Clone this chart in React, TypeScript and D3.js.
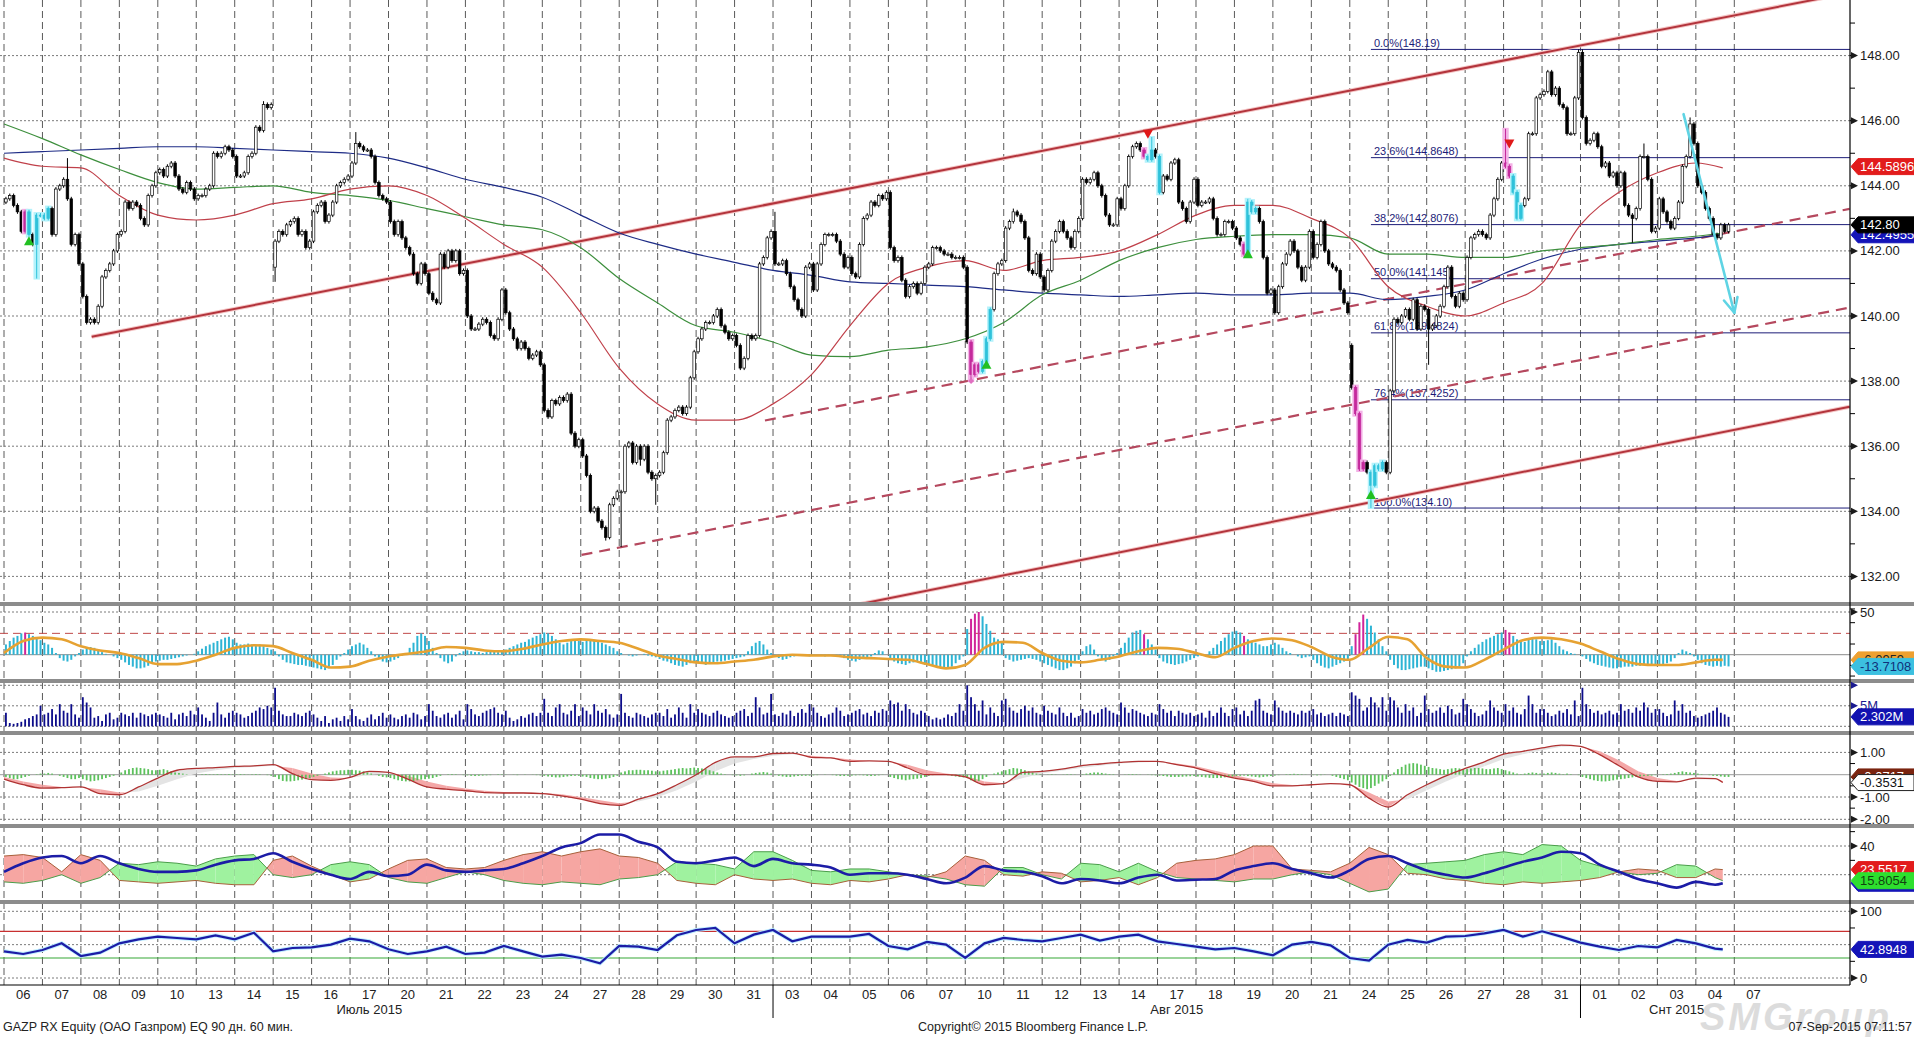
import React from 'react';
import * as d3 from 'd3';

// ---------- data ----------
const dayLabels = ['06','07','08','09','10','13','14','15','16','17','20','21','22','23','24','27','28','29','30','31',
  '03','04','05','06','07','10','11','12','13','14','17','18','19','20','21','24','25','26','27','28','31',
  '01','02','03','04','07'];
const monthLabels = ['Июль 2015', 'Авг 2015', 'Снт 2015'];
const monthCenters = [9.5, 30.5, 43.5];
const monthBreaks = [20, 41];

// hourly closes, one row per trading day
const firstOpen = 143.5;
const closes: number[][] = [
  [143.6,143.7,143.4,143.2,142.6,143.2,142.5,142.2,143.1,143.1],
  [143.0,143.3,142.5,143.9,144.0,144.2,143.6,142.2,142.5,141.6],
  [140.6,139.8,139.9,139.8,140.3,141.2,141.4,141.6,142.0,142.5],
  [142.6,143.5,143.3,143.5,143.4,143.0,142.8,143.7,144.0,144.4],
  [144.5,144.3,144.6,144.7,144.3,143.9,143.8,144.1,143.9,143.6],
  [143.7,143.7,143.9,144.0,145.0,144.9,145.0,145.2,145.1,144.9],
  [144.3,144.3,144.4,144.9,145.0,145.8,145.7,146.5,146.4,146.5],
  [142.3,142.6,142.5,142.8,142.9,143.0,142.5,142.6,142.1,142.3],
  [143.2,143.4,143.5,142.9,143.1,143.5,144.0,144.1,144.2,144.3],
  [144.7,145.3,145.2,145.1,145.1,144.9,144.1,143.7,143.6,143.5],
  [142.9,142.5,142.9,142.4,142.1,141.9,141.3,141.0,141.6,141.3],
  [140.7,140.5,140.4,141.9,141.5,142.0,141.7,142.0,141.3,141.4],
  [140.0,139.6,139.6,139.75,139.9,139.8,139.4,139.3,139.9,140.8],
  [140.1,139.6,139.3,139.0,139.2,139.0,138.7,138.8,138.9,138.5],
  [137.1,136.9,137.4,137.3,137.5,137.4,137.6,136.4,136.0,136.2],
  [135.7,135.1,134.0,134.1,133.7,133.5,133.2,134.2,134.4,134.6],
  [134.6,136.0,136.1,135.5,136.0,135.6,136.0,135.2,135.0,135.1],
  [135.2,135.8,136.8,136.9,137.1,137.2,137.0,137.2,138.1,138.9],
  [139.3,139.6,139.8,139.8,140.0,140.2,139.7,139.5,139.3,139.4],
  [139.1,138.4,138.7,139.4,139.3,139.4,141.6,141.8,142.4,142.6],
  [141.6,141.6,141.7,141.3,140.9,140.5,140.2,140.0,141.5,141.6],
  [140.8,141.6,142.2,142.5,142.5,142.5,142.3,141.9,141.5,141.8],
  [141.3,141.2,142.2,143.0,143.1,143.5,143.4,143.7,143.6,143.8],
  [142.1,141.7,141.8,141.1,140.6,140.9,141.0,140.7,141.0,141.5],
  [141.6,142.1,142.1,142.0,141.9,141.9,141.8,141.8,141.8,141.5],
  [139.2,138.2,138.5,138.3,138.6,139.3,140.2,141.3,141.6,141.7],
  [142.7,142.9,143.2,143.1,142.9,142.4,141.4,141.3,141.9,141.2],
  [140.8,141.4,142.3,142.6,142.9,142.6,142.4,142.1,142.6,143.0],
  [144.2,144.1,144.2,144.4,144.0,143.7,143.1,142.8,142.8,143.6],
  [143.3,144.0,144.9,145.2,145.3,145.1,144.9,144.8,145.1,144.9],
  [143.8,144.3,144.2,144.7,144.8,143.5,143.3,142.9,143.5,144.2],
  [143.4,143.5,143.5,143.6,143.0,142.5,142.5,142.9,142.9,142.7],
  [142.4,142.2,141.9,143.5,143.2,143.3,142.9,141.8,140.7,140.8],
  [140.1,140.9,141.6,141.9,142.3,142.0,141.5,141.1,141.5,142.6],
  [141.8,142.2,142.9,142.0,141.6,141.5,141.4,140.8,140.4,140.1],
  [137.8,137.0,135.3,135.5,135.2,134.8,135.4,135.3,135.5,135.2],
  [137.7,139.9,139.8,140.0,140.2,139.9,140.5,139.6,140.3,140.2],
  [139.6,139.7,140.0,140.3,140.9,141.5,140.6,140.3,140.7,140.5],
  [141.8,142.4,142.5,142.6,142.5,142.4,143.1,143.6,144.2,144.7],
  [144.6,144.3,143.8,143.0,143.4,143.6,145.6,145.6,146.7,146.8],
  [146.9,147.5,146.8,147.0,146.5,146.4,145.6,145.6,146.7,148.1],
  [146.1,145.3,145.4,145.6,145.2,144.6,144.7,144.3,144.4,144.0],
  [144.4,143.4,143.1,143.0,143.3,144.9,144.9,144.2,142.6,142.7],
  [143.6,143.2,142.9,142.7,143.0,143.5,144.6,144.9,145.9,145.3],
  [144.0,143.8,143.3,143.0,142.5,142.4,142.8,142.6,142.8],
];
const gapOpens: [number, number][] = [[70, 141.5], [350, 139.1], [410, 148.1]];
const highMarks: [number, number][] = [[16, 144.85], [67, 146.6], [91, 145.65], [200, 143.2], [262, 143.3],
  [298, 145.5], [323, 143.6], [390, 145.75], [409, 148.19], [410, 148.19], [426, 145.3], [438, 146.1]];
const lowMarks: [number, number][] = [[8, 141.15], [70, 141.05], [156, 133.1], [160, 132.9], [169, 134.2],
  [251, 138.0], [355, 134.1], [370, 138.5], [423, 142.25], [165, 135.4]];
const magentaBars = [5, 251, 252, 253, 296, 322, 351, 352, 353, 390, 391];
const cyanBars = [6, 8, 9, 10, 11, 254, 255, 256, 297, 298, 300, 323, 324, 325, 355, 356, 357, 358, 392, 393, 394];
const upMarks: [number, number][] = [[6, 142.3], [255, 138.5], [323, 141.9], [355, 134.5]];
const downMarks: [number, number][] = [[297, 145.6], [391, 145.3]];

// moving averages, one value per day start + last bar
const maRed = [144.85,144.6,144.55,143.7,143.1,142.95,143.1,143.45,143.6,143.9,144.0,143.7,143.0,142.2,141.5,140.1,138.4,137.3,136.8,136.8,
  137.3,138.2,139.7,141.0,141.5,141.7,141.4,141.7,141.8,142.0,142.5,143.1,143.4,143.4,143.0,142.4,140.9,140.3,140.0,140.4,
  141.0,142.8,143.8,144.4,144.7,144.55];
const maGreen = [145.9,145.45,144.95,144.5,144.1,143.9,143.95,144.0,143.8,143.7,143.55,143.3,143.05,142.8,142.65,142.1,141.15,140.4,139.7,139.5,
  139.2,138.8,138.75,138.95,139.05,139.3,139.8,140.65,141.1,141.7,142.1,142.35,142.45,142.5,142.5,142.4,141.9,141.9,141.8,141.8,
  142.0,142.1,142.2,142.35,142.45,142.55];
const maBlue = [145.0,145.05,145.1,145.15,145.2,145.2,145.15,145.1,145.05,145.0,144.85,144.55,144.2,143.95,143.65,143.1,142.55,142.2,141.9,141.65,
  141.4,141.25,141.05,141.0,140.95,140.9,140.8,140.7,140.65,140.6,140.65,140.7,140.65,140.65,140.7,140.7,140.5,140.6,140.8,141.3,
  141.75,142.05,142.2,142.3,142.4,142.5];
const lastPos = 44.7;

const fibLevels = [148.19, 144.8648, 142.8076, 141.145, 139.4824, 137.4252, 134.10];
const fibNames = ['0.0%(148.19)', '23.6%(144.8648)', '38.2%(142.8076)', '50.0%(141.145)', '61.8%(139.4824)', '76.4%(137.4252)', '100.0%(134.10)'];
const fibStart = 35.55;

const channelUpper: [number, number][] = [[2.28, 139.36], [48, 149.93]];
const channelLower: [number, number][] = [[22.26, 131.15], [48, 137.21]];
const channelMidA: [number, number][] = [[15.02, 132.66], [48, 140.26]];
const channelMidB: [number, number][] = [[19.79, 136.79], [48, 143.29]];
const arrowLine: [number, number][] = [[43.68, 146.2], [45.0, 140.1]];

// oscillator histogram (per bar) and its signal (half-day)
const oscHist: number[][] = [
  [12,16,20,22,25,26,24,22,20,17],[14,12,8,2,-4,-7,-8,-6,-2,2],[6,8,9,8,6,3,1,0,-2,-4],[-6,-9,-12,-14,-16,-16,-15,-13,-10,-8],
  [-7,-6,-6,-5,-4,-3,-2,-1,0,1],[4,7,10,12,14,16,18,20,21,18],[14,12,12,13,12,11,12,10,8,6],[4,-2,-6,-9,-10,-11,-12,-12,-13,-14],
  [-15,-16,-17,-18,-16,-12,-6,-2,2,6],[10,12,14,12,8,4,-2,-5,-8,-9],[-8,-6,-4,-1,2,8,14,22,25,22],[16,8,2,-4,-8,-10,-8,-2,2,4],
  [5,4,3,3,2,3,4,4,3,4],[6,8,10,12,14,15,18,20,22,24],[26,25,22,18,14,12,14,16,17,16],[15,16,17,17,16,14,12,10,8,4],
  [2,0,-1,-2,-1,0,1,-1,-2,-3],[-5,-7,-8,-10,-12,-13,-14,-12,-10,-8],[-9,-10,-12,-11,-10,-8,-8,-7,-6,-5],[-4,-3,-2,4,10,14,16,12,6,2],
  [-2,-4,-6,-5,-3,-2,-1,0,-1,-2],[-1,0,-1,-2,-1,0,-1,-2,-4,-6],[-7,-8,-6,-5,-4,-2,2,5,4,0],[-6,-8,-10,-11,-12,-10,-9,-8,-10,-12],
  [-12,-13,-14,-15,-16,-16,-14,-10,-6,-2],[30,42,48,50,45,36,28,20,18,16],[-4,-6,-8,-7,-6,-5,-4,-5,-6,-8],[-10,-12,-14,-16,-18,-18,-16,-14,-10,-6],
  [4,10,12,6,-2,-6,-8,-6,-2,2],[8,14,20,26,28,29,24,18,12,6],[-4,-8,-10,-11,-12,-11,-10,-8,-6,-4],[-2,-1,0,4,8,12,16,20,24,27],
  [28,26,22,18,16,14,12,10,10,12],[14,12,8,4,2,0,-2,-4,-3,-2],[-6,-10,-13,-15,-16,-14,-12,-10,-8,-6],[10,24,38,47,42,34,26,18,10,4],
  [-6,-12,-16,-18,-18,-17,-16,-15,-14,-14],[-16,-18,-20,-20,-19,-18,-17,-16,-14,-10],[-2,4,8,12,15,18,20,22,24,26],[29,26,22,18,16,15,18,20,18,16],
  [16,17,18,14,10,6,4,2,1,0],[-2,-5,-8,-10,-12,-13,-14,-15,-16,-16],[-15,-14,-14,-14,-13,-13,-12,-12,-12,-11],[-12,-12,-10,-8,-4,2,6,4,2,-2],
  [-6,-10,-12,-13,-14,-13,-14,-13,-13.7108],
];
const oscSignal = [2,16,20,18,10,5,2,-4,-11,-11,-7,0,8,11,10,2,-6,-15,-14,-7,-2,1,4,9,8,5,4,7,12,16,18,16,14,
  7,-1,-5,-9,-10,-8,-6,-2,0,-1,-1,-3,-4,-5,-6,-11,-16,-12,8,15,14,2,-7,-9,-6,-2,4,8,7,2,-3,8,
  16,19,17,9,-2,-6,8,21,18,-4,-14,-15,-6,6,17,20,18,13,4,-5,-11,-12,-12,-9,-6,-6.0959];

// volume, millions per bar
const volume: number[][] = [
  [3.3,0.8,0.6,0.8,1.1,1.7,2.0,2.5,2.9,5.0],[2.9,3.3,4.2,2.9,5.4,3.8,3.3,5.4,2.9,2.1],[7.1,5.8,4.6,2.1,2.5,1.3,2.9,3.3,1.7,2.1],
  [3.3,2.9,2.5,3.3,2.1,3.3,2.9,2.5,2.9,3.3],[2.9,2.5,2.1,3.3,1.7,2.9,3.3,2.5,3.8,2.9],[4.6,2.9,2.1,1.3,3.3,5.8,2.9,2.1,3.3,3.8],
  [3.3,2.9,2.1,2.5,3.3,3.8,4.6,4.2,5.0,4.6],[9.4,3.8,2.9,2.5,2.5,3.3,2.9,2.5,3.3,3.8],[2.9,2.1,1.3,2.5,0.8,1.7,2.1,1.3,2.5,1.7],
  [4.2,2.5,1.7,1.3,2.1,2.9,1.7,2.5,3.3,2.1],[2.9,2.1,1.7,2.5,2.9,2.1,3.3,2.9,1.7,2.5],[5.4,3.8,2.5,2.1,2.9,3.3,2.1,2.9,3.8,1.7],
  [5.4,4.2,2.9,2.5,3.3,3.8,4.2,4.6,3.3,2.9],[3.8,2.1,1.3,1.7,2.5,2.1,2.9,3.3,2.5,3.3],[6.7,3.3,2.5,4.6,5.4,3.3,2.9,3.8,5.4,2.5],
  [4.6,3.8,2.9,5.4,3.8,3.3,4.2,2.9,2.1,2.9],[7.9,3.3,2.5,2.1,3.3,2.9,2.5,2.1,2.9,3.3],[3.3,2.5,4.2,2.1,2.9,4.6,3.3,2.1,5.4,3.3],
  [4.2,3.3,2.9,2.5,3.3,3.8,2.9,2.5,2.1,2.5],[3.3,3.8,4.2,2.5,3.3,7.1,4.6,2.9,3.3,7.9],[2.9,2.5,3.3,2.9,3.8,2.5,3.3,4.2,3.3,5.4],
  [4.6,3.3,2.5,2.1,2.9,3.3,4.6,3.8,2.5,2.9],[3.3,3.8,4.2,2.9,3.3,2.5,3.8,3.3,4.2,3.8],[6.3,5.4,5.8,3.8,5.4,4.2,3.3,2.9,3.8,3.3],
  [2.5,1.7,2.1,1.7,2.1,2.9,2.5,3.3,5.4,3.8],[10.0,7.1,5.4,3.8,6.3,2.9,4.6,3.3,2.5,6.3],[6.7,4.6,3.8,3.3,4.2,5.0,3.8,4.6,3.3,2.9],
  [5.0,3.8,3.3,2.9,4.6,3.3,2.5,3.3,2.1,2.5],[4.2,3.3,3.8,2.9,3.3,4.2,4.6,3.8,3.3,2.9],[5.8,4.6,3.3,4.2,3.8,3.3,2.9,2.5,3.3,2.9],
  [5.4,4.2,3.3,3.8,2.5,3.8,3.3,2.9,3.3,2.5],[2.9,3.3,2.1,3.8,2.5,3.3,4.6,3.3,2.5,4.2],[4.6,2.9,3.8,2.5,3.8,6.3,6.7,3.8,3.3,2.9],
  [6.3,4.6,3.8,3.3,3.8,3.3,2.9,3.8,3.3,3.8],[4.2,2.9,3.3,2.5,2.9,3.3,2.5,3.3,2.9,2.5],[8.3,7.5,6.7,3.8,4.6,7.1,5.8,4.6,7.1,3.8],
  [7.1,6.3,4.6,3.3,5.4,3.8,4.6,2.5,3.3,7.5],[4.2,3.3,3.8,4.6,3.3,5.0,4.2,2.9,3.3,6.7],[5.4,4.2,3.3,2.5,2.9,3.8,6.3,4.6,3.8,3.3],
  [5.4,3.8,4.6,3.3,2.9,4.2,7.5,5.4,3.3,4.2],[4.2,3.3,2.5,2.9,3.8,3.3,4.2,2.9,6.3,2.5],[9.4,5.4,4.2,3.3,3.8,2.9,3.3,3.8,2.9,3.3],
  [5.4,3.8,4.2,3.3,4.6,3.8,5.8,4.6,3.3,4.2],[4.2,3.3,2.5,2.9,6.3,3.8,5.4,3.3,3.8,2.5],[2.1,2.5,2.9,3.3,3.8,4.6,3.3,2.9,2.302],
];

// MACD histogram per bar, MACD and signal half-day
const macdHist: number[][] = [
  [-0.1,-0.15,-0.2,-0.2,-0.15,-0.1,-0.05,0,0.02,0.05],[0.05,0.08,0.05,0,-0.05,-0.1,-0.15,-0.2,-0.2,-0.15],[-0.2,-0.25,-0.3,-0.28,-0.25,-0.2,-0.15,-0.1,-0.05,0],
  [0.1,0.2,0.25,0.3,0.32,0.3,0.28,0.25,0.2,0.2],[0.22,0.25,0.2,0.15,0.1,0.08,0.05,0.02,0,0],[0,0.02,0.03,0.02,0.02,0.03,0.02,0.02,0.03,0.02],
  [0.02,0.03,0.02,0.01,0.02,0.03,0.02,0,-0.02,-0.05],[-0.1,-0.2,-0.28,-0.3,-0.3,-0.28,-0.25,-0.22,-0.2,-0.15],[-0.1,-0.05,0,0.05,0.1,0.15,0.18,0.2,0.2,0.22],
  [0.22,0.2,0.18,0.15,0.1,0.05,0,-0.05,-0.1,-0.12],[-0.15,-0.2,-0.25,-0.28,-0.3,-0.3,-0.28,-0.25,-0.22,-0.2],[-0.18,-0.15,-0.1,-0.05,0,0.02,0.03,0.02,0,-0.02],
  [-0.03,-0.05,-0.06,-0.05,-0.04,-0.03,-0.02,0,0.02,0.02],[0.01,0,-0.01,-0.02,0,0.01,0,-0.01,-0.02,-0.03],[-0.05,-0.08,-0.1,-0.12,-0.12,-0.1,-0.08,-0.06,-0.05,-0.05],
  [-0.08,-0.1,-0.15,-0.18,-0.2,-0.2,-0.18,-0.15,-0.1,-0.05],[0.1,0.15,0.2,0.2,0.22,0.22,0.2,0.2,0.18,0.15],[0.15,0.18,0.2,0.22,0.25,0.28,0.3,0.28,0.3,0.32],
  [0.3,0.28,0.25,0.2,0.15,0.1,0.05,0.02,0,-0.02],[-0.03,-0.05,-0.03,0,0.05,0.08,0.1,0.12,0.1,0.05],[-0.02,-0.05,-0.08,-0.1,-0.1,-0.08,-0.06,-0.05,-0.05,-0.04],
  [-0.03,-0.02,0,0.01,0,-0.02,-0.04,-0.06,-0.06,-0.05],[-0.04,-0.03,-0.02,-0.03,-0.05,-0.06,-0.05,-0.03,-0.01,0],[-0.1,-0.15,-0.2,-0.22,-0.25,-0.22,-0.2,-0.18,-0.15,-0.1],
  [-0.05,-0.02,0,0.01,0,-0.02,-0.05,-0.08,-0.1,-0.12],[-0.15,-0.25,-0.3,-0.28,-0.2,-0.1,0,0.05,0.1,0.15],[0.2,0.25,0.3,0.28,0.25,0.2,0.15,0.1,0.05,0.02],
  [0,0.01,0.02,0.01,0,0.01,0.02,0.02,0.01,0],[0.02,0.05,0.08,0.1,0.1,0.08,0.05,0.03,0.02,0],[0,0.01,0.02,0.03,0.02,0.01,0,-0.01,-0.02,-0.03],
  [-0.04,-0.06,-0.08,-0.1,-0.1,-0.1,-0.09,-0.08,-0.07,-0.06],[-0.08,-0.1,-0.12,-0.14,-0.15,-0.15,-0.14,-0.12,-0.1,-0.08],[-0.06,-0.05,-0.04,-0.06,-0.08,-0.1,-0.12,-0.1,-0.08,-0.06],
  [-0.04,-0.02,0,0.02,0.03,0.04,0.03,0.02,0.01,0],[-0.02,-0.03,-0.02,-0.01,0,-0.05,-0.1,-0.15,-0.2,-0.25],[-0.35,-0.45,-0.55,-0.6,-0.65,-0.6,-0.5,-0.4,-0.3,-0.2],
  [-0.05,0.1,0.25,0.35,0.45,0.5,0.52,0.5,0.45,0.4],[0.35,0.3,0.28,0.25,0.22,0.25,0.28,0.3,0.28,0.25],[0.25,0.28,0.3,0.3,0.28,0.25,0.25,0.28,0.3,0.25],
  [0.2,0.15,0.1,0.05,0.02,0.05,0.08,0.1,0.08,0.05],[0.05,0.08,0.1,0.08,0.05,0.02,0.05,0.02,0,-0.02],[-0.1,-0.15,-0.2,-0.25,-0.28,-0.3,-0.3,-0.28,-0.25,-0.22],
  [-0.2,-0.18,-0.15,-0.12,-0.1,-0.08,-0.06,-0.05,-0.04,-0.02],[0,0.02,0.03,0.05,0.08,0.12,0.15,0.12,0.1,0.08],[0.05,0.02,0,-0.02,-0.05,-0.06,-0.08,-0.1,-0.1],
];
const macdLine = [-0.2,-0.45,-0.6,-0.58,-0.55,-0.85,-0.9,-0.55,-0.15,0.2,0.28,0.32,0.37,0.4,0.45,0.05,-0.22,-0.25,-0.12,0.15,0.1,-0.2,-0.55,-0.65,-0.72,-0.8,-0.82,-0.82,-0.85,-0.95,-1.1,-1.3,-1.38,
  -1.1,-0.85,-0.45,0.0,0.55,0.8,0.8,0.95,0.97,0.78,0.75,0.6,0.62,0.6,0.3,0.0,0.0,-0.1,-0.45,-0.4,0.1,0.15,0.25,0.4,0.48,0.55,0.6,0.6,0.45,0.3,0.05,-0.15,
  -0.3,-0.5,-0.5,-0.45,-0.4,-0.45,-1.05,-1.45,-0.9,-0.45,-0.05,0.28,0.58,0.92,1.05,1.2,1.33,1.27,0.9,0.4,-0.1,-0.3,-0.32,-0.15,-0.18,-0.3531];
const macdSignal = [-0.1,-0.3,-0.45,-0.55,-0.56,-0.65,-0.8,-0.75,-0.5,-0.2,0.05,0.2,0.3,0.35,0.4,0.3,0.05,-0.12,-0.15,0.0,0.08,-0.05,-0.3,-0.5,-0.62,-0.72,-0.78,-0.8,-0.82,-0.88,-1.0,-1.15,-1.28,
  -1.2,-1.0,-0.7,-0.3,0.15,0.5,0.7,0.85,0.92,0.85,0.78,0.68,0.63,0.6,0.45,0.2,0.05,-0.05,-0.3,-0.38,-0.15,0.05,0.18,0.3,0.4,0.5,0.55,0.58,0.5,0.38,0.18,-0.02,
  -0.2,-0.38,-0.46,-0.46,-0.42,-0.43,-0.8,-1.2,-1.1,-0.7,-0.3,0.05,0.38,0.7,0.92,1.1,1.25,1.28,1.05,0.65,0.15,-0.15,-0.28,-0.22,-0.2,-0.28];

// directional movement (half-day)
const adx = [22,28,32,33,28,33,28,24,22,22,23,27,30,31,35,29,24,20,17,22,19,20,27,23,22,23,24,28,33,39,42,48,48,
  43,39,29,28,30,32,26,31,28,27,25,20,21,21,20,17,14,18,26,23,22,19,14,17,16,14,18,20,16,16.5,17,23,
  26,28,24,21,18,23,31,33,28,23,20,18,21,25,29,32,36,35,27,22,17,14,11,15,13,14.0329];
const diPlus = [15,14,16,20,14,18,28,27,29,28,26,31,33,34,20,18,20,27,29,27,18,15,14,18,22,20,16,14,13,15,14,13,17,
  18,20,29,28,27,24,36,36,30,23,22,24,24,22,20,19,17,13,12,25,25,20,17,28,27,22,28,22,18,17,16,15,
  17,17,20,22,20,14,8,10,27,28,29,30,34,36,34,41,40,30,26,22,20,21,27,26,18,15.8054];
const diMinus = [33,34,32,22,34,30,16,15,14,15,16,14,13,13,30,33,26,20,15,17,24,30,31,25,24,25,30,34,36,33,36,38,33,
  32,28,16,14,13,20,17,16,17,14,13,16,15,17,20,18,22,33,30,20,19,22,21,15,16,18,13,18,28,30,31,34,
  40,40,24,23,22,28,39,34,21,20,17,16,14,13,15,14,15,16,18,22,24,23,18,18,24,23.5517];

// RSI (half-day)
const rsi = [40,36,42,52,33,38,52,58,62,60,58,64,58,68,40,45,46,50,59,55,43,36,40,47,36,38,48,40,32,35,30,22,48,
  47,42,64,72,75,52,65,72,55,62,62,62,66,48,43,54,50,30,52,60,57,55,60,65,56,62,65,55,51,47,43,45,
  40,34,50,54,49,30,26,50,57,53,62,63,67,72,62,70,62,53,47,42,48,46,57,52,44,42.8948];

// ---------- layout ----------
const W = 1914, H = 1037, AX = 1850, XAXIS_Y = 985;
const font = '"Liberation Sans", Arial, sans-serif';
const panels = {
  main: [0, 602], osc: [606, 679], vol: [683, 731], macd: [735, 824], dmi: [828, 900], rsi: [904, 985],
};
const separators = [602, 679, 731, 824, 900];

const xDay = d3.scaleLinear().domain([0, 45]).range([4, 1734.3]);
const barX = (k: number) => xDay(Math.floor(k / 10) + ((k % 10) + 0.5) / 10);
const yP = d3.scaleLinear().domain([132, 148]).range([576.4, 55.6]);
const yOsc = d3.scaleLinear().domain([0, 50]).range([654.7, 612]);
const yVol = d3.scaleLinear().domain([0, 10]).range([726.3, 685.3]);
const yMacd = d3.scaleLinear().domain([0, 1]).range([774.7, 752.4]);
const yDmi = d3.scaleLinear().domain([20, 40]).range([874.7, 846]);
const yRsi = d3.scaleLinear().domain([0, 100]).range([978, 911.3]);

const dayPos = d3.range(45).map(i => i).concat([lastPos]);
const halfPos = d3.range(90).map(i => i / 2).concat([lastPos]);

// ---------- derived bars ----------
type Bar = { k: number; o: number; c: number; hi?: number; lo?: number };
const bars: Bar[] = [];
closes.forEach(day => day.forEach(c => {
  const k = bars.length;
  bars.push({ k, o: k ? bars[k - 1].c : firstOpen, c });
}));
gapOpens.forEach(([k, v]) => { bars[k].o = v; });
highMarks.forEach(([k, v]) => { bars[k].hi = v; });
lowMarks.forEach(([k, v]) => { bars[k].lo = v; });
const magentaSet = new Set(magentaBars);
const cyanSet = new Set(cyanBars);
const flat = (rows: number[][]) => rows.flat();

function bands(pos: number[], a: number[], b: number[]) {
  const out: { pts: [number, number][]; up: boolean }[] = [];
  for (let i = 0; i < pos.length - 1; i++) {
    const d0 = a[i] - b[i], d1 = a[i + 1] - b[i + 1];
    if (d0 * d1 < 0) {
      const t = d0 / (d0 - d1);
      const xm = pos[i] + t * (pos[i + 1] - pos[i]);
      const vm = a[i] + t * (a[i + 1] - a[i]);
      out.push({ pts: [[pos[i], a[i]], [xm, vm], [pos[i], b[i]]], up: d0 > 0 });
      out.push({ pts: [[xm, vm], [pos[i + 1], a[i + 1]], [pos[i + 1], b[i + 1]]], up: d1 > 0 });
    } else {
      out.push({ pts: [[pos[i], a[i]], [pos[i + 1], a[i + 1]], [pos[i + 1], b[i + 1]], [pos[i], b[i]]], up: d0 + d1 > 0 });
    }
  }
  return out;
}

const lineOf = (pos: number[], vals: number[], y: (v: number) => number, curve = d3.curveLinear) =>
  d3.line<number>().x((_, i) => xDay(pos[i])).y(v => y(v)).curve(curve)(vals) || '';

const segPath = (pts: [number, number][], y: (v: number) => number) =>
  `M${xDay(pts[0][0])},${y(pts[0][1])}L${xDay(pts[1][0])},${y(pts[1][1])}`;

const boxPath = (y: number) => `M${AX + 1},${y} L${AX + 8},${y - 8} L${W},${y - 8} L${W},${y + 8} L${AX + 8},${y + 8} Z`;

function ValueBox({ y, text, bg, fg, border }: { y: number; text: string; bg: string; fg: string; border?: string }) {
  return (
    <g>
      <path d={boxPath(y)} fill={bg} stroke={border || bg} strokeWidth={1} />
      <text x={AX + 10} y={y + 4.5} fontSize={13} fill={fg} fontFamily={font}>{text}</text>
    </g>
  );
}

function TickLabel({ y, text, color = '#1a1a1a' }: { y: number; text: string; color?: string }) {
  return (
    <g>
      <path d={`M${AX + 1},${y - 3.5} L${AX + 8},${y} L${AX + 1},${y + 3.5} Z`} fill={color} />
      {text && <text x={AX + 10} y={y + 4.5} fontSize={13} fill={color} fontFamily={font}>{text}</text>}
    </g>
  );
}

const HGrid = ({ y }: { y: number }) => (
  <line x1={0} x2={AX} y1={y} y2={y} stroke="#7a7a7a" strokeWidth={1} strokeDasharray="2,2" />
);

export default function App() {
  const hist = flat(oscHist);
  const vols = flat(volume);
  const mh = flat(macdHist);
  const macdBands = bands(halfPos, macdLine, macdSignal);
  const dmiBands = bands(halfPos, diPlus, diMinus);

  return (
    <svg width={W} height={H} style={{ position: 'absolute', left: 0, top: 0, background: '#fff' }} fontFamily={font}>
      <defs>
        {Object.entries(panels).map(([k, [t, b]]) => (
          <clipPath id={`clip-${k}`} key={k}><rect x={0} y={t} width={AX} height={b - t} /></clipPath>
        ))}
      </defs>
      <rect x={0} y={0} width={W} height={H} fill="#fff" />

      {/* vertical day grid */}
      {d3.range(46).map(d => (
        <line key={d} x1={xDay(d)} x2={xDay(d)} y1={0} y2={XAXIS_Y} stroke="#5a5a5a" strokeWidth={1} strokeDasharray="7,4" />
      ))}

      {/* horizontal grids */}
      {d3.range(132, 149, 2).map(v => <HGrid key={`p${v}`} y={yP(v)} />)}
      <HGrid y={yOsc(50)} />
      {[10, 5, 0].map(v => <HGrid key={`v${v}`} y={yVol(v)} />)}
      {[1, -1, -2].map(v => <HGrid key={`m${v}`} y={yMacd(v)} />)}
      {[40, 20].map(v => <HGrid key={`d${v}`} y={yDmi(v)} />)}
      {[100, 50, 0].map(v => <HGrid key={`r${v}`} y={yRsi(v)} />)}

      {/* ---------- main price panel ---------- */}
      <g clipPath="url(#clip-main)">
        {fibLevels.map((lv, i) => (
          <g key={lv}>
            <line x1={xDay(fibStart)} x2={AX} y1={yP(lv)} y2={yP(lv)} stroke="#1c1c78" strokeWidth={1} />
            <text x={xDay(fibStart) + 3} y={yP(lv) - 2.5} fontSize={11} fill="#1c1c78">{fibNames[i]}</text>
          </g>
        ))}
        {[channelUpper, channelLower].map((seg, i) => (
          <g key={`c${i}`}>
            <path d={segPath(seg, yP)} stroke="#f4c4c4" strokeWidth={4} fill="none" />
            <path d={segPath(seg, yP)} stroke="#b3343c" strokeWidth={2} fill="none" />
          </g>
        ))}
        {[channelMidA, channelMidB].map((seg, i) => (
          <path key={`m${i}`} d={segPath(seg, yP)} stroke="#b5485e" strokeWidth={2.2} strokeDasharray="11,7" fill="none" />
        ))}
        <path d={lineOf(dayPos, maBlue, yP, d3.curveMonotoneX)} stroke="#1e2c86" strokeWidth={1.2} fill="none" />
        <path d={lineOf(dayPos, maGreen, yP, d3.curveMonotoneX)} stroke="#3d8f3d" strokeWidth={1.2} fill="none" />
        <path d={lineOf(dayPos, maRed, yP, d3.curveMonotoneX)} stroke="#c0404a" strokeWidth={1.2} fill="none" />

        {bars.map(b => {
          const x = barX(b.k);
          const up = b.c >= b.o;
          const top = yP(Math.max(b.o, b.c));
          const bot = yP(Math.min(b.o, b.c));
          const hi = b.hi != null ? yP(b.hi) : top - 2;
          const lo = b.lo != null ? yP(b.lo) : bot + 2;
          const h = Math.max(1, bot - top);
          const col = magentaSet.has(b.k) ? { main: '#c42a9c', glow: '#f3b2e6' }
            : cyanSet.has(b.k) ? { main: '#2fc2da', glow: '#b4f2fb' } : null;
          return (
            <g key={b.k}>
              {col && <rect x={x - 3.2} y={hi - 1} width={6.4} height={lo - hi + 2} fill={col.glow} />}
              <line x1={x} x2={x} y1={hi} y2={lo} stroke={col ? col.main : '#000'} strokeWidth={1} />
              <rect x={x - 1.3} y={top} width={2.6} height={h}
                fill={col ? col.main : up ? '#fff' : '#000'} stroke={col ? col.main : '#000'} strokeWidth={0.7} />
            </g>
          );
        })}

        {upMarks.map(([k, v]) => (
          <path key={`u${k}`} d={`M${barX(k) - 5},${yP(v) + 4} L${barX(k) + 5},${yP(v) + 4} L${barX(k)},${yP(v) - 5} Z`} fill="#22c022" />
        ))}
        {downMarks.map(([k, v]) => (
          <path key={`dn${k}`} d={`M${barX(k) - 5},${yP(v) - 4} L${barX(k) + 5},${yP(v) - 4} L${barX(k)},${yP(v) + 5} Z`} fill="#e01818" />
        ))}
        <path d={`M${barX(251) - 3},${yP(138.0)} L${barX(251)},${yP(138.0) - 3} L${barX(251) + 3},${yP(138.0)} L${barX(251)},${yP(138.0) + 3} Z`} fill="#e070c0" />

        {(() => {
          const [[d0, p0], [d1, p1]] = arrowLine;
          const x0 = xDay(d0), y0 = yP(p0), x1 = xDay(d1), y1 = yP(p1);
          const ang = Math.atan2(y1 - y0, x1 - x0);
          const a1 = ang + Math.PI - 0.45, a2 = ang + Math.PI + 0.45;
          return (
            <g stroke="#5fd4e4" strokeWidth={2.6} fill="none" strokeLinecap="round">
              <line x1={x0} y1={y0} x2={x1} y2={y1} />
              <line x1={x1} y1={y1} x2={x1 + 16 * Math.cos(a1)} y2={y1 + 16 * Math.sin(a1)} />
              <line x1={x1} y1={y1} x2={x1 + 16 * Math.cos(a2)} y2={y1 + 16 * Math.sin(a2)} />
            </g>
          );
        })()}
      </g>

      {/* ---------- oscillator ---------- */}
      <g clipPath="url(#clip-osc)">
        <line x1={0} x2={AX} y1={yOsc(25)} y2={yOsc(25)} stroke="#c04848" strokeWidth={1} strokeDasharray="8,5" />
        <line x1={0} x2={AX} y1={yOsc(0)} y2={yOsc(0)} stroke="#8a8a8a" strokeWidth={1} />
        {hist.map((v, k) => (
          <rect key={k} x={barX(k) - 1} width={2} y={Math.min(yOsc(v), yOsc(0))} height={Math.abs(yOsc(v) - yOsc(0))}
            fill={magentaSet.has(k) ? '#d0249a' : '#2db4d4'} />
        ))}
        <path d={lineOf(halfPos, oscSignal, yOsc, d3.curveMonotoneX)} stroke="#e6a232" strokeWidth={2.6} fill="none" />
      </g>

      {/* ---------- volume ---------- */}
      <g clipPath="url(#clip-vol)">
        {vols.map((v, k) => (
          <rect key={k} x={barX(k) - 0.9} width={1.8} y={yVol(v)} height={yVol(0) - yVol(v)} fill="#0c0c8a" />
        ))}
      </g>

      {/* ---------- MACD ---------- */}
      <g clipPath="url(#clip-macd)">
        <line x1={0} x2={AX} y1={yMacd(0)} y2={yMacd(0)} stroke="#9a9a9a" strokeWidth={1} />
        {macdBands.map((b, i) => (
          <polygon key={i} points={b.pts.map(p => `${xDay(p[0])},${yMacd(p[1])}`).join(' ')}
            fill={b.up ? '#e4e4e4' : '#f4a8a8'} stroke="none" />
        ))}
        {mh.map((v, k) => (
          <rect key={k} x={barX(k) - 0.9} width={1.8} y={Math.min(yMacd(v), yMacd(0))} height={Math.abs(yMacd(v) - yMacd(0))} fill="#5cc25c" />
        ))}
        <path d={lineOf(halfPos, macdLine, yMacd, d3.curveMonotoneX)} stroke="#b03232" strokeWidth={1.3} fill="none" />
      </g>

      {/* ---------- DMI ---------- */}
      <g clipPath="url(#clip-dmi)">
        {dmiBands.map((b, i) => (
          <polygon key={i} points={b.pts.map(p => `${xDay(p[0])},${yDmi(p[1])}`).join(' ')}
            fill={b.up ? '#9ff29f' : '#f6a6a2'} stroke="none" />
        ))}
        <path d={lineOf(halfPos, diPlus, yDmi)} stroke="#4a9e4a" strokeWidth={1} fill="none" />
        <path d={lineOf(halfPos, diMinus, yDmi)} stroke="#a8603a" strokeWidth={1} fill="none" />
        <path d={lineOf(halfPos, adx, yDmi, d3.curveMonotoneX)} stroke="#1c1ca6" strokeWidth={2.6} fill="none" />
      </g>

      {/* ---------- RSI ---------- */}
      <g clipPath="url(#clip-rsi)">
        <line x1={0} x2={AX} y1={yRsi(70)} y2={yRsi(70)} stroke="#c83030" strokeWidth={1.2} />
        <line x1={0} x2={AX} y1={yRsi(30)} y2={yRsi(30)} stroke="#36a836" strokeWidth={1.2} />
        <path d={lineOf(halfPos, rsi, yRsi)} stroke="#bfefff" strokeWidth={4} fill="none" />
        <path d={lineOf(halfPos, rsi, yRsi)} stroke="#1c1ca6" strokeWidth={2.2} fill="none" />
      </g>

      {/* panel separators */}
      {separators.map(y => <rect key={y} x={0} y={y} width={W} height={4} fill="#8c8c8c" />)}

      {/* right axis */}
      <line x1={AX} x2={AX} y1={0} y2={XAXIS_Y} stroke="#000" strokeWidth={1.2} />
      {d3.range(131, 150).map(v => (
        <line key={`mt${v}`} x1={AX} x2={AX + 5} y1={yP(v)} y2={yP(v)} stroke="#000" strokeWidth={1} />
      ))}
      {[37.5, 12.5, -12.5, -25].map(v => <line key={`ot${v}`} x1={AX} x2={AX + 5} y1={yOsc(v)} y2={yOsc(v)} stroke="#000" />)}
      {[0.5, -0.5, -1.5].map(v => <line key={`mct${v}`} x1={AX} x2={AX + 5} y1={yMacd(v)} y2={yMacd(v)} stroke="#000" />)}
      {[50, 30].map(v => <line key={`dt${v}`} x1={AX} x2={AX + 5} y1={yDmi(v)} y2={yDmi(v)} stroke="#000" />)}
      {[75, 25].map(v => <line key={`rt${v}`} x1={AX} x2={AX + 5} y1={yRsi(v)} y2={yRsi(v)} stroke="#000" />)}

      {d3.range(132, 149, 2).map(v => <TickLabel key={`pl${v}`} y={yP(v)} text={v.toFixed(2)} />)}
      <TickLabel y={yOsc(50)} text="50" />
      <TickLabel y={yVol(10)} text="" color="#1a1a90" />
      <TickLabel y={yVol(5)} text="5M" color="#1a1a90" />
      <TickLabel y={yMacd(1)} text="1.00" />
      <TickLabel y={yMacd(-1)} text="-1.00" />
      <TickLabel y={yMacd(-2)} text="-2.00" />
      <TickLabel y={yDmi(40)} text="40" />
      <TickLabel y={yRsi(100)} text="100" />
      <TickLabel y={yRsi(0)} text="0" />

      {/* last-value boxes (stacked as in the terminal, later ones on top) */}
      <ValueBox y={yP(144.5896)} text="144.5896" bg="#e21c1c" fg="#fff" />
      <ValueBox y={yP(142.4955)} text="142.4955" bg="#1414b8" fg="#fff" />
      <ValueBox y={yP(142.8)} text="142.80" bg="#000" fg="#fff" />
      <ValueBox y={yOsc(oscSignal[oscSignal.length - 1])} text="-6.0959" bg="#eea030" fg="#222" />
      <ValueBox y={yOsc(hist[hist.length - 1])} text="-13.7108" bg="#3cc0e0" fg="#10307a" />
      <ValueBox y={yVol(vols[vols.length - 1])} text="2.302M" bg="#1212b0" fg="#fff" />
      <ValueBox y={yMacd(mh[mh.length - 1])} text="-0.0717" bg="#7a2410" fg="#fff" />
      <ValueBox y={yMacd(macdLine[macdLine.length - 1])} text="-0.3531" bg="#fff" fg="#111" border="#222" />
      <ValueBox y={yDmi(adx[adx.length - 1])} text="14.0329" bg="#1414b8" fg="#fff" />
      <ValueBox y={yDmi(diMinus[diMinus.length - 1])} text="23.5517" bg="#e21c1c" fg="#fff" />
      <ValueBox y={yDmi(diPlus[diPlus.length - 1])} text="15.8054" bg="#2ee02e" fg="#114411" />
      <ValueBox y={yRsi(rsi[rsi.length - 1])} text="42.8948" bg="#1414b8" fg="#fff" />

      {/* date axis */}
      <line x1={0} x2={AX} y1={XAXIS_Y} y2={XAXIS_Y} stroke="#000" strokeWidth={1.2} />
      {dayLabels.map((t, i) => (
        <text key={`dl${i}`} x={xDay(i + 0.5)} y={999} fontSize={13} textAnchor="middle" fill="#222">{t}</text>
      ))}
      {monthBreaks.map(d => (
        <line key={`mb${d}`} x1={xDay(d)} x2={xDay(d)} y1={XAXIS_Y} y2={1018} stroke="#000" strokeWidth={1} />
      ))}
      {monthLabels.map((t, i) => (
        <text key={t} x={xDay(monthCenters[i])} y={1014} fontSize={13} textAnchor="middle" fill="#222">{t}</text>
      ))}

      {/* footer */}
      <text x={1700} y={1030} fontSize={38} fontStyle="italic" fontWeight="bold" fill="#d4d4d4" opacity={0.8} letterSpacing={3}>SMGroup</text>
      <text x={3} y={1031} fontSize={12.5} fill="#222">GAZP RX Equity (ОАО Газпром) EQ 90 дн. 60 мин.</text>
      <text x={918} y={1031} fontSize={12.5} fill="#222">Copyright© 2015 Bloomberg Finance L.P.</text>
      <text x={1912} y={1031} fontSize={12.5} fill="#222" textAnchor="end">07-Sep-2015 07:11:57</text>
    </svg>
  );
}
